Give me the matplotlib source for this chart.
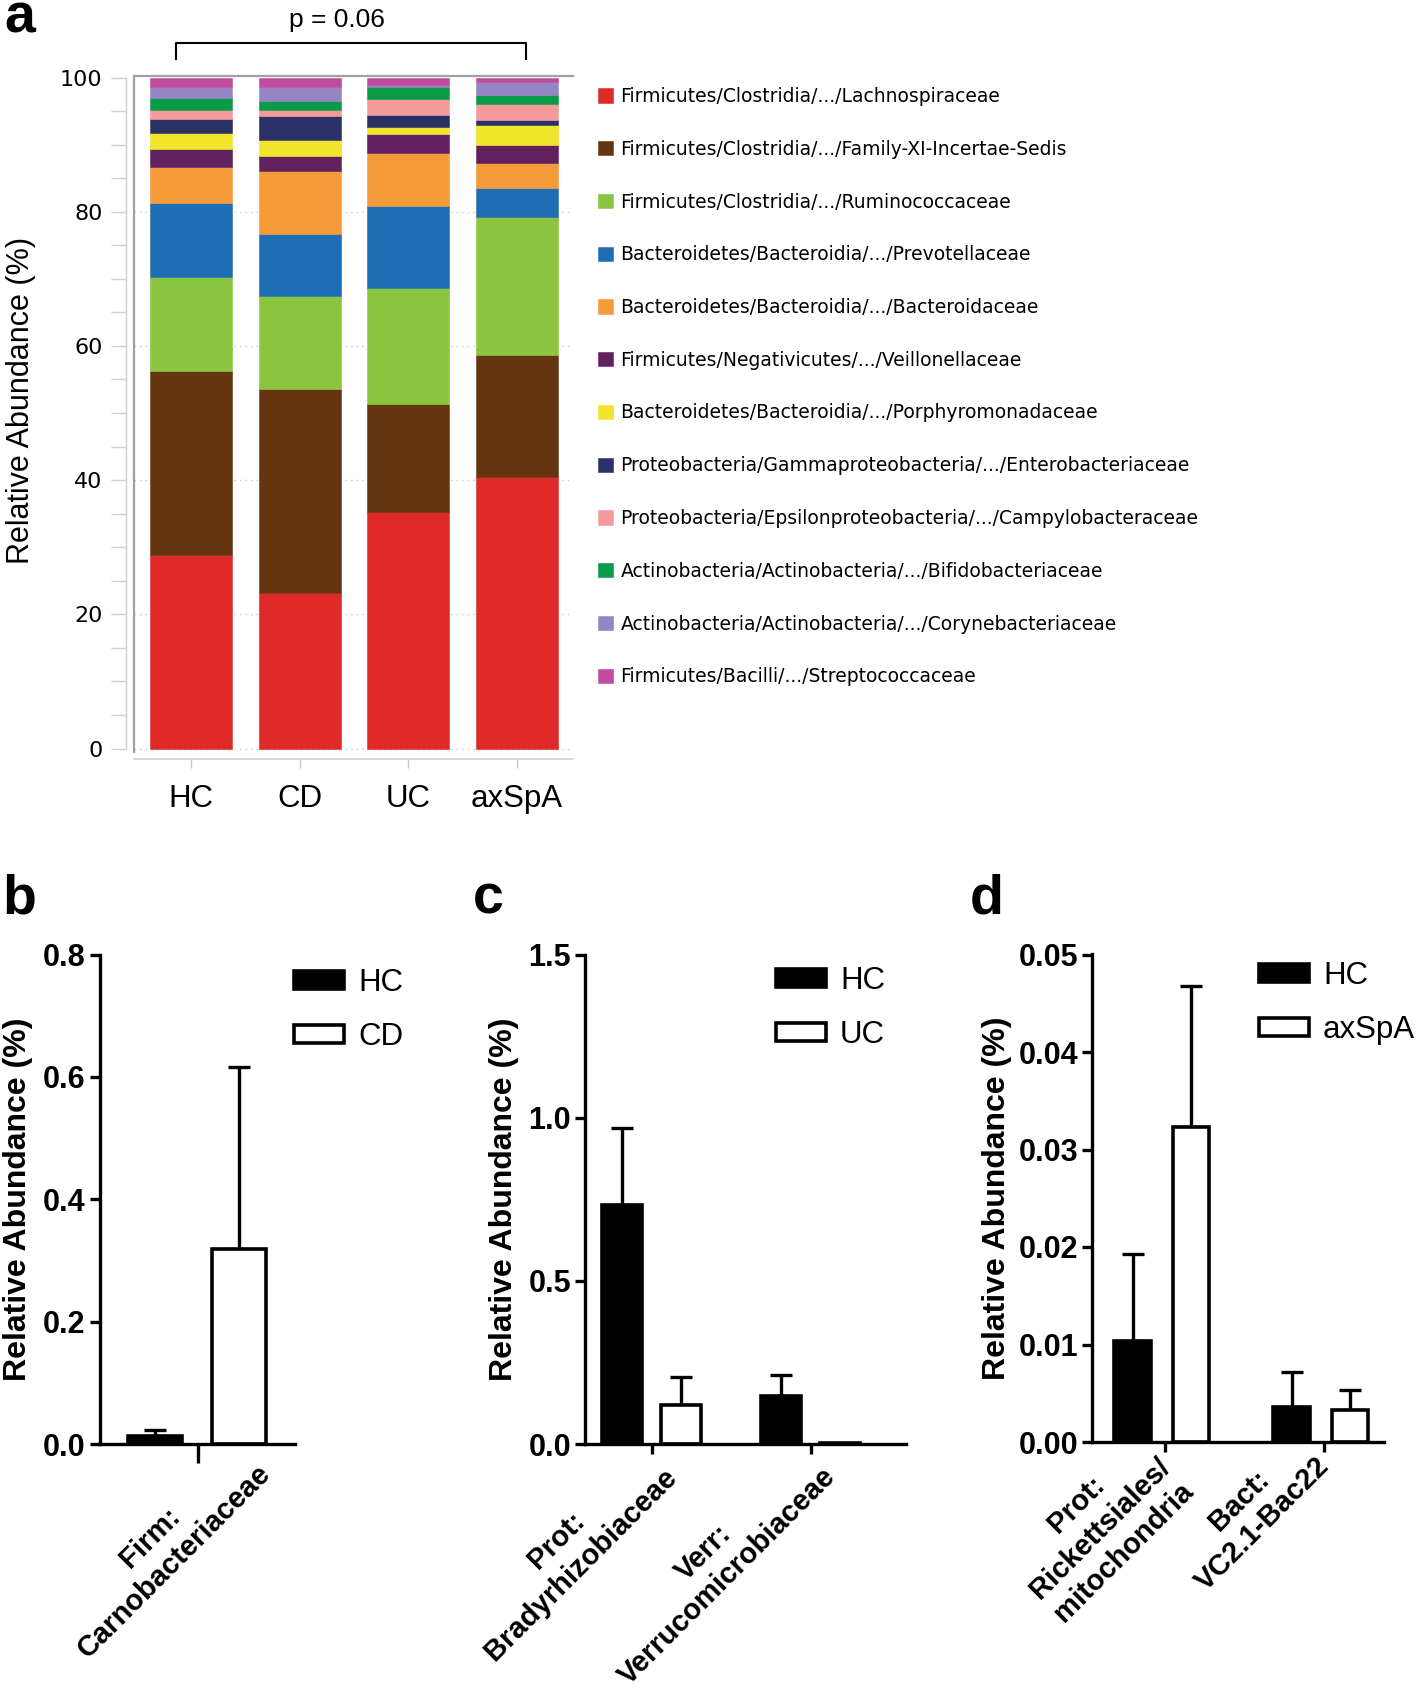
import numpy as np
import matplotlib
matplotlib.use('Agg')
import matplotlib.pyplot as plt
import matplotlib.transforms as mtransforms
from matplotlib.ticker import MultipleLocator

plt.rcParams['font.family'] = ['Liberation Sans', 'DejaVu Sans']

# %% data, panel a (stacked, % relative abundance, bottom -> top)
groups = ['HC', 'CD', 'UC', 'axSpA']
taxa = ['Firmicutes/Clostridia/.../Lachnospiraceae',
        'Firmicutes/Clostridia/.../Family-XI-Incertae-Sedis',
        'Firmicutes/Clostridia/.../Ruminococcaceae',
        'Bacteroidetes/Bacteroidia/.../Prevotellaceae',
        'Bacteroidetes/Bacteroidia/.../Bacteroidaceae',
        'Firmicutes/Negativicutes/.../Veillonellaceae',
        'Bacteroidetes/Bacteroidia/.../Porphyromonadaceae',
        'Proteobacteria/Gammaproteobacteria/.../Enterobacteriaceae',
        'Proteobacteria/Epsilonproteobacteria/.../Campylobacteraceae',
        'Actinobacteria/Actinobacteria/.../Bifidobacteriaceae',
        'Actinobacteria/Actinobacteria/.../Corynebacteriaceae',
        'Firmicutes/Bacilli/.../Streptococcaceae']
lachno   = [28.9, 23.2, 35.2, 40.5]
famxi    = [27.4, 30.4, 16.1, 18.2]
rumino   = [14.0, 13.9, 17.3, 20.5]
prevo    = [11.0,  9.2, 12.2,  4.3]
bactero  = [ 5.4,  9.4,  8.0,  3.7]
veill    = [ 2.6,  2.2,  2.8,  2.7]
porphy   = [ 2.4,  2.4,  1.0,  3.0]
entero   = [ 2.1,  3.5,  1.8,  0.8]
campy    = [ 1.4,  1.0,  2.4,  2.4]
bifido   = [ 1.7,  1.3,  1.8,  1.3]
coryne   = [ 1.7,  2.1,  0.3,  1.9]
strepto  = [ 1.4,  1.4,  1.1,  0.7]
stack = [lachno, famxi, rumino, prevo, bactero, veill, porphy, entero,
         campy, bifido, coryne, strepto]
cols_a = ['#e02a2a', '#64350f', '#8bc53f', '#1f6eb4', '#f59a38', '#63205f',
          '#f0e52a', '#2b3066', '#f49a9a', '#0a9b48', '#9585c5', '#c14b9e']

# %% data, panels b-d (mean, upper error)
b_labels = ['Firm:\nCarnobacteriaceae']
b_names = ['HC', 'CD']
b_hc, b_hc_err = [0.0136], [0.0098]
b_cd, b_cd_err = [0.319], [0.297]

c_labels = ['Prot:\nBradyrhizobiaceae', 'Verr:\nVerrucomicrobiaceae']
c_names = ['HC', 'UC']
c_hc, c_hc_err = [0.732, 0.146], [0.235, 0.066]
c_uc, c_uc_err = [0.119, 0.003], [0.086, 0.0]

d_labels = ['Prot:\nRickettsiales/\nmitochondria', 'Bact:\nVC2.1-Bac22']
d_names = ['HC', 'axSpA']
d_hc, d_hc_err = [0.0104, 0.00355], [0.0089, 0.00365]
d_ax, d_ax_err = [0.0323, 0.0033], [0.0145, 0.0020]

W, H = 1418, 1695
fig = plt.figure(figsize=(W / 100, H / 100), dpi=100)

# %% panel a
axa = fig.add_axes([134 / W, 1 - 759 / H, 439 / W, 683.3 / H])
xa = np.arange(len(groups))
bottom = np.zeros(len(groups))
handles = []
for vals, col in zip(stack, cols_a):
    h = axa.bar(xa, vals, 0.755, bottom=bottom, color=col, edgecolor=col,
                linewidth=0.4, zorder=2)
    bottom += np.array(vals)
    handles.append(h)
axa.set_xlim(-0.524, 3.514)
axa.set_ylim(-1.56, 100.27)
axa.set_yticks([0, 20, 40, 60, 80])
axa.tick_params(axis='y', left=False, labelleft=False)
axa.grid(axis='y', color='#c8c8c8', linestyle=(0, (1, 3)), linewidth=1, zorder=0)
axa.spines['right'].set_visible(False)
axa.spines['top'].set_color('#a0a0a0')
axa.spines['top'].set_linewidth(1.6)
axa.spines['left'].set_color('#a0a0a0')
axa.spines['left'].set_linewidth(1.6)
axa.spines['left'].set_bounds(-0.5, 100.27)
axa.spines['bottom'].set_color('#d0d0d0')
axa.spines['bottom'].set_linewidth(1.2)
axa.set_xticks(xa)
axa.set_xticklabels(groups, fontsize=22.5)
axa.tick_params(axis='x', length=6.5, width=1, color='#c8c8c8', pad=11.5)

sec = axa.secondary_yaxis(-0.018)
sec.set_yticks([0, 20, 40, 60, 80, 100])
sec.yaxis.set_minor_locator(MultipleLocator(5))
sec.spines['left'].set_color('#d0d0d0')
sec.spines['left'].set_linewidth(1)
sec.spines['left'].set_bounds(0, 100)
sec.tick_params(which='both', length=11, width=1, color='#d0d0d0')
sec.tick_params(which='major', pad=6, labelsize=16)
for t in sec.get_yticklabels():
    t.set_family('DejaVu Sans')
fig.text(21 / W, 1 - 400 / H, 'Relative Abundance (%)', rotation=90,
         ha='center', va='center', fontsize=22)

fig.legend(handles, taxa, loc='upper left', bbox_to_anchor=(598 / W, 1 - 87 / H),
           frameon=False, prop=dict(family='DejaVu Sans', size=13.5),
           handlelength=0.8, handleheight=0.8, handletextpad=0.4,
           labelspacing=1.8, borderpad=0, borderaxespad=0)

# significance bracket
axa.plot([-0.14, -0.14, 3.08, 3.08], [102.7, 105.1, 105.1, 102.7],
         color='black', linewidth=1.5, clip_on=False)
fig.text(337 / W, 1 - 20 / H, 'p = 0.06', ha='center', va='center', fontsize=19)


# %% panels b-d
def pair_panel(ax, labels, v1, e1, v2, e2, names, offs, width, xlim, ylim,
               ystep, fmt, xtick_len, dx, dy, leg_anchor):
    x = np.arange(len(labels))
    h1 = ax.bar(x + offs[0], v1, width, color='black', edgecolor='black',
                linewidth=2.6, zorder=2, label=names[0])
    h2 = ax.bar(x + offs[1], v2, width, color='white', edgecolor='black',
                linewidth=2.6, zorder=2, label=names[1])
    for xs, vs, es in [(x + offs[0], v1, e1), (x + offs[1], v2, e2)]:
        es = np.array(es)
        m = es > 0
        ax.errorbar(np.array(xs)[m], np.array(vs)[m],
                    yerr=[np.zeros(m.sum()), es[m]], fmt='none', ecolor='black',
                    elinewidth=2.4, capsize=8, capthick=2.4, zorder=1)
    ax.set_xlim(*xlim)
    ax.set_ylim(*ylim)
    ax.yaxis.set_major_locator(MultipleLocator(ystep))
    ax.yaxis.set_major_formatter(fmt)
    for s in ['top', 'right']:
        ax.spines[s].set_visible(False)
    for s in ['left', 'bottom']:
        ax.spines[s].set_linewidth(2.4)
    ax.tick_params(axis='y', length=7, width=2.4, labelsize=22, pad=3)
    ax.tick_params(axis='x', length=xtick_len, width=2.4, labelsize=21, pad=3)
    for t in ax.get_yticklabels():
        t.set_fontweight('bold')
    ax.set_xticks(x)
    ax.set_xticklabels(labels, rotation=45, ha='right', va='top',
                       rotation_mode='anchor', multialignment='center',
                       fontweight='bold', linespacing=1.25)
    off = mtransforms.ScaledTranslation(dx / 72, dy / 72, fig.dpi_scale_trans)
    for t in ax.get_xticklabels():
        t.set_transform(t.get_transform() + off)
    ax.set_ylabel('Relative Abundance (%)', fontsize=23, fontweight='bold')
    ax.legend(handles=[h1, h2], loc='upper left', bbox_to_anchor=leg_anchor,
              bbox_transform=fig.transFigure, frameon=False, fontsize=22.5,
              handlelength=1.6, handleheight=0.5, handletextpad=0.45,
              labelspacing=0.78, borderpad=0, borderaxespad=0)


axb = fig.add_axes([99.5 / W, 251 / H, 195.5 / W, 489.5 / H])
pair_panel(axb, b_labels, b_hc, b_hc_err, b_cd, b_cd_err, b_names,
           (-0.2, 0.19), 0.25, (-0.455, 0.45), (0, 0.8), 0.2, '{x:.1f}',
           14, 24.8, 23, (294 / W, 1 - 968 / H))
axb.yaxis.set_label_coords(-0.338, 0.5)

axc = fig.add_axes([585 / W, 251 / H, 321 / W, 489.5 / H])
pair_panel(axc, c_labels, c_hc, c_hc_err, c_uc, c_uc_err, c_names,
           (-0.185, 0.185), 0.25, (-0.42, 1.6), (0, 1.5), 0.5, '{x:.1f}',
           7, -9.5, 13.5, (776 / W, 1 - 966 / H))
axc.yaxis.set_label_coords(-0.206, 0.5)

axd = fig.add_axes([1092 / W, 253 / H, 292 / W, 487.5 / H])
pair_panel(axd, d_labels, d_hc, d_hc_err, d_ax, d_ax_err, d_names,
           (-0.2, 0.167), 0.23, (-0.456, 1.38), (0, 0.05), 0.01, '{x:.2f}',
           7, -23, 19.7, (1259 / W, 1 - 961 / H))
axd.yaxis.set_label_coords(-0.275, 0.5)

# panel letters
for lx, ly, s in [(19.5, 32.5, 'a'), (19.5, 913.5, 'b'), (488.6, 913.5, 'c'),
                  (987, 913.5, 'd')]:
    fig.text(lx / W, 1 - ly / H, s, ha='center', va='baseline', fontsize=40,
             fontweight='bold')

fig.savefig('out.png', dpi=100)
